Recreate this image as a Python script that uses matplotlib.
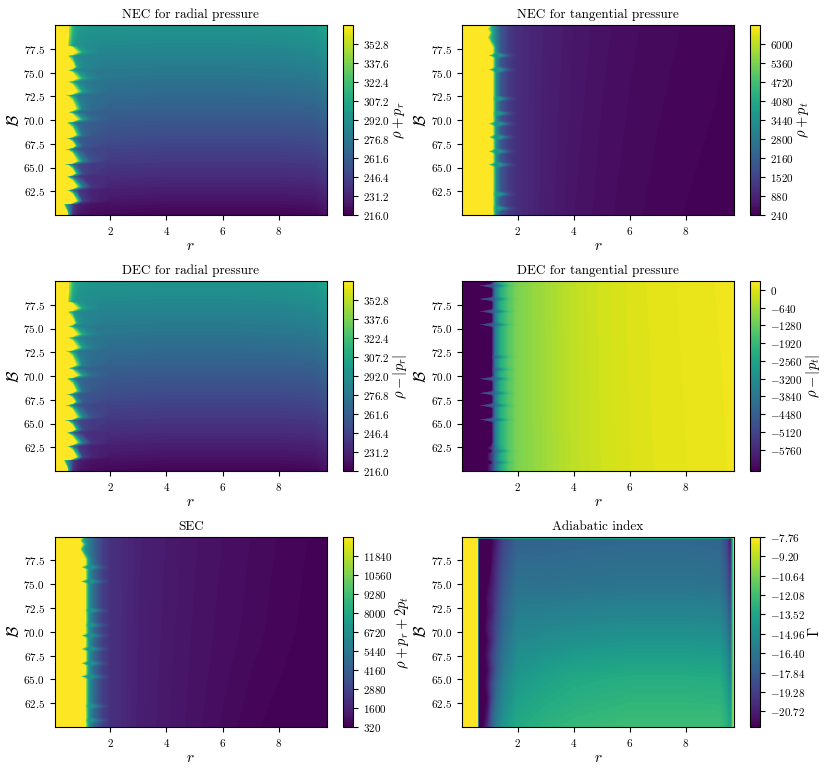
import numpy as np
import matplotlib
matplotlib.use("Agg")
import matplotlib.pyplot as plt

plt.rcParams['font.family'] = ['cmr10', 'DejaVu Sans']
plt.rcParams['mathtext.fontset'] = 'cm'
plt.rcParams['axes.formatter.use_mathtext'] = True

W, H = 830, 772
r_ticks = [2, 4, 6, 8]
b_ticks = [62.5, 65.0, 67.5, 70.0, 72.5, 75.0, 77.5]

# ---------- NEC / DEC radial ----------
nec_r_left = [0.01, 0.2, 0.35, 0.5, 0.65, 0.8, 1.0, 1.3, 2.0]
nec_b_left = [60, 60.3, 61.15, 61.5, 62.65, 63, 64.05, 64.4, 65.35, 65.7, 66.95, 67.3, 68.1, 68.45, 69.75, 70.1,
              70.85, 71.2, 72.65, 73, 74.05, 74.4, 75.25, 75.6, 76.8, 77.15, 77.8, 79, 80]
nec_left = [
    [3000, 1500, 700, 300, 235, 225, 222, 220, 218],
    [3000, 1200, 500, 300, 240, 228, 224, 221, 219],
    [3000, 450, 320, 280, 245, 232, 227, 223, 222],
    [4000, 3000, 1500, 800, 500, 340, 245, 232, 224],
    [3000, 500, 330, 285, 255, 242, 236, 231, 228],
    [4000, 3000, 1500, 800, 500, 350, 275, 240, 230],
    [3000, 420, 300, 270, 250, 243, 238, 235, 234],
    [4000, 3000, 1300, 700, 420, 300, 250, 241, 236],
    [3000, 420, 305, 275, 258, 250, 245, 242, 240],
    [4000, 3000, 1500, 800, 500, 350, 285, 254, 241],
    [3000, 450, 310, 280, 264, 256, 251, 248, 246],
    [4000, 3000, 1300, 700, 420, 300, 260, 253, 247],
    [3000, 500, 320, 285, 268, 261, 257, 254, 251],
    [4000, 3000, 1300, 700, 450, 330, 270, 258, 252],
    [3000, 500, 325, 290, 275, 268, 263, 260, 257],
    [4000, 3000, 1500, 800, 500, 360, 298, 269, 259],
    [3000, 500, 330, 293, 277, 270, 266, 263, 261],
    [4000, 3000, 1300, 700, 450, 340, 282, 269, 262],
    [3000, 500, 335, 297, 284, 276, 273, 270, 268],
    [4000, 3000, 1500, 800, 500, 360, 300, 280, 269],
    [3000, 500, 335, 300, 287, 282, 278, 275, 273],
    [4000, 3000, 1500, 800, 500, 360, 305, 284, 274],
    [3000, 500, 340, 302, 289, 284, 281, 278, 277],
    [4000, 3000, 1300, 650, 400, 305, 288, 283, 278],
    [3000, 700, 380, 309, 294, 289, 286, 284, 282],
    [4000, 3000, 1500, 800, 500, 355, 303, 290, 283],
    [3000, 1200, 600, 333, 301, 294, 291, 288, 286],
    [3000, 1500, 800, 352, 310, 298, 294, 292, 291],
    [3000, 1500, 800, 362, 316, 304, 298, 296, 295],
]
nec_r_right = [2, 4, 6, 8, 9.3, 9.72]
nec_b_right = [60, 65, 70, 75, 80]
nec_right = [
    [218, 217, 217, 217, 218, 222],
    [239, 238, 238, 238, 239, 243],
    [258, 257, 257, 257, 258, 263],
    [277, 276, 276, 277, 279, 285],
    [295, 294, 294, 295, 298, 305],
]

# ---------- rows shared by the NEC tangential and SEC panels ----------
front_b = [60, 60.4, 60.7, 61.0, 61.9, 62.2, 62.5, 65.0, 65.3, 65.6, 66.4, 66.7, 67.0, 67.9, 68.2, 68.5,
           69.3, 69.6, 69.9, 70.4, 70.7, 71.0, 71.95, 72.25, 72.55, 75.0, 75.3, 75.6, 76.5, 76.8, 77.1,
           77.6, 78.2, 78.7, 79.2, 79.6, 80]
front_kind = "NNRNNRNNLNNLNNLNNLNNRNNRNNLNNLNNTUTUT"
front_r = [0.01, 0.78, 0.95, 1.08, 1.14, 1.22, 1.4, 1.7, 2.0]

# ---------- NEC tangential ----------
nect_rows = {
    'N': [30000, 30000, 20000, 7200, 5400, 3400, 1900, 1300, 1050],
    'L': [30000, 6700, 4000, 3700, 3600, 3500, 3600, 1700, 1050],
    'R': [30000, 30000, 20000, 7200, 4800, 3800, 3600, 1700, 1050],
    'T': [30000, 30000, 7500, 4300, 3800, 3000, 1900, 1300, 1050],
    'U': [30000, 15000, 5500, 3900, 3700, 3000, 1900, 1300, 1050],
}
nect_r_right = [2, 3, 4, 5, 6, 7, 8, 9, 9.72]
nect_b_right = [60, 70, 80]
nect_right = [
    [1050, 740, 560, 460, 390, 340, 300, 270, 250],
    [1050, 760, 590, 490, 420, 370, 330, 300, 270],
    [1050, 790, 620, 520, 450, 400, 360, 330, 300],
]

# ---------- DEC tangential ----------
dect_r = [0.01, 0.62, 0.8, 1.08, 1.14, 1.22, 1.4, 1.7, 2.0]
dect_b = [60, 60.6, 60.9, 61.2, 61.8, 62.1, 62.4, 63.0, 65.1, 65.4, 65.7, 66.6, 66.9, 67.2, 67.9, 68.2, 68.5,
          69.4, 69.7, 70.0, 70.4, 70.7, 71.0, 71.7, 72.0, 72.3, 75.1, 75.4, 75.7, 76.5, 76.8, 77.1,
          77.8, 78.1, 78.4, 79.2, 79.5, 79.8, 80]
dect_kind = "BBRBBRBNNLNNLNNLNNLNNRNNRNNLNNLNNLNNLNN"
dect_rows = {
    'N': [-30000, -30000, -20000, -7000, -5400, -3700, -2300, -1500, -1050],
    'L': [-30000, -6600, -5200, -4700, -4500, -4200, -3600, -1800, -1050],
    'R': [-30000, -30000, -20000, -7000, -5000, -4300, -3600, -1800, -1050],
    'B': [-30000, -30000, -7500, -5500, -5100, -4000, -2500, -1500, -1050],
}
dect_r_right = [2, 3, 4, 5, 6, 7, 8, 9, 9.72]
dect_b_right = [60, 70, 80]
dect_right = [
    [-1050, -660, -360, -190, -70, 10, 60, 100, 140],
    [-1050, -650, -350, -180, -60, 20, 70, 110, 150],
    [-1050, -640, -340, -170, -50, 30, 80, 125, 170],
]

# ---------- SEC ----------
sec_rows = {
    'N': [60000, 60000, 40000, 14000, 10500, 7000, 4600, 2700, 2100],
    'L': [60000, 13200, 7500, 6800, 6800, 6800, 6600, 3500, 2100],
    'R': [60000, 60000, 40000, 14000, 9000, 7200, 6600, 3500, 2100],
    'T': [60000, 60000, 15000, 8000, 6800, 5800, 4400, 2700, 2100],
    'U': [60000, 30000, 9500, 7000, 6500, 5800, 4400, 2700, 2100],
}
sec_r_right = [2, 3, 4, 5, 6, 7, 8, 9, 9.72]
sec_b_right = [60, 70, 80]
sec_right = [
    [2100, 1400, 1100, 880, 680, 470, 400, 360, 330],
    [2100, 1450, 1150, 930, 780, 650, 500, 410, 350],
    [2100, 1500, 1200, 980, 830, 700, 560, 450, 400],
]

# ---------- Adiabatic index ----------
G = -2.0
P = -23.0
adi_r_left = [0.01, 0.54, 0.58, 0.63, 0.68, 0.95, 1.1, 1.25, 1.5, 2.0]
adi_b_left = [60, 61.6, 63, 64.5, 66, 67.5, 69, 70.5, 72, 73.5, 75, 76.5, 78, 79.5, 79.75, 80]
adi_left = [
    [G, G, -15, P, P, -20, -17.5, -16, -14.6, -13.3],
    [G, G, -15, P, P, -21, -18, -16.5, -15, -13.6],
    [G, G, -15, P, P, -21.5, -19, -17, -15.4, -14.0],
    [G, G, -15, P, P, -21, -18.8, -17.3, -15.7, -14.3],
    [G, G, -15, P, P, -21.5, -19.8, -18, -16.2, -14.7],
    [G, G, -15, P, P, -21, -19.3, -18, -16.5, -15.1],
    [G, G, -15, P, P, -21.5, -20.2, -18.6, -16.9, -15.4],
    [G, G, -15, P, P, -21, -20, -18.8, -17.2, -15.7],
    [G, G, -15, P, P, -21.5, -20.7, -19.2, -17.5, -16],
    [G, G, -15, P, P, -21.3, -20.5, -19.4, -17.8, -16.3],
    [G, G, -15, P, P, -21.8, -21, -19.8, -18.1, -16.6],
    [G, G, -15, P, P, P, -21.2, -20, -18.4, -16.9],
    [G, G, -15, P, P, P, -21.5, -20.4, -18.7, -17.2],
    [G, G, -15, P, P, P, -21.8, -20.8, -19, -17.5],
    [G, G, -15, P, P, P, -21.8, -20.8, -19, -17.5],
    [G, G, -9.5, -9.5, -9.5, -9.5, -9.5, -9.5, -9.5, -9.5],
]
adi_r_right = [2, 3, 4, 6, 8, 9.2, 9.45, 9.6, 9.66, 9.72]
adi_b_right = [60, 65, 70, 75, 79.75, 80]
adi_right = [
    [-13.3, -12.8, -12.5, -12.2, -12.2, -12.2, -12.8, -14, -12, -9],
    [-14.4, -13.8, -13.4, -13.1, -13.1, -13.2, -14.2, -16, -13, -9],
    [-15.5, -15.3, -15.1, -14.9, -14.9, -15.0, -16, -18, -14, -9],
    [-16.6, -16.7, -16.6, -16.5, -16.5, -16.6, -17.8, -20, -15, -9],
    [-17.4, -17.4, -17.3, -17.2, -17.2, -17.3, -19, -21.5, -16, -9],
    [-9.5, -9.5, -9.5, -9.5, -9.5, -9.5, -9.5, -9.5, -9.5, -9],
]

# ---------- panel definitions ----------
panels = [
    dict(title="NEC for radial pressure", label=r"$\rho+p_r$",
         left=(nec_r_left, nec_b_left, nec_left), right=(nec_r_right, nec_b_right, nec_right),
         lev=(216, 368, 1.52), ticks=[216.0, 231.2, 246.4, 261.6, 276.8, 292.0, 307.2, 322.4, 337.6, 352.8], fmt="{:.1f}"),
    dict(title="NEC for tangential pressure", label=r"$\rho+p_t$",
         left=(front_r, front_b, [nect_rows[k] for k in front_kind]), right=(nect_r_right, nect_b_right, nect_right),
         lev=(240, 6640, 64), ticks=[240, 880, 1520, 2160, 2800, 3440, 4080, 4720, 5360, 6000], fmt="{:d}"),
    dict(title="DEC for radial pressure", label=r"$\rho-|p_r|$",
         left=(nec_r_left, nec_b_left, nec_left), right=(nec_r_right, nec_b_right, nec_right),
         lev=(216, 368, 1.52), ticks=[216.0, 231.2, 246.4, 261.6, 276.8, 292.0, 307.2, 322.4, 337.6, 352.8], fmt="{:.1f}"),
    dict(title="DEC for tangential pressure", label=r"$\rho-|p_t|$",
         left=(dect_r, dect_b, [dect_rows[k] for k in dect_kind]), right=(dect_r_right, dect_b_right, dect_right),
         lev=(-6528, 320, 64), ticks=[-5760, -5120, -4480, -3840, -3200, -2560, -1920, -1280, -640, 0], fmt="{:d}"),
    dict(title="SEC", label=r"$\rho+p_r+2p_t$",
         left=(front_r, front_b, [sec_rows[k] for k in front_kind]), right=(sec_r_right, sec_b_right, sec_right),
         lev=(320, 13120, 128), ticks=[320, 1600, 2880, 4160, 5440, 6720, 8000, 9280, 10560, 11840], fmt="{:d}"),
    dict(title="Adiabatic index", label=r"$\Gamma$",
         left=(adi_r_left, adi_b_left, adi_left), right=(adi_r_right, adi_b_right, adi_right),
         lev=(-21.872, -7.76, 0.144), ticks=[-20.72, -19.28, -17.84, -16.40, -14.96, -13.52, -12.08, -10.64, -9.20, -7.76], fmt="{:.2f}"),
]

col_x = [(54.5, 327.0, 343.0, 353.0), (461.7, 734.0, 750.0, 760.0)]
row_y = [(25.0, 215.0), (281.0, 471.0), (536.7, 727.0)]


def px_rect(x0, x1, y0, y1):
    return [x0 / W, 1 - y1 / H, (x1 - x0) / W, (y1 - y0) / H]


fig = plt.figure(figsize=(W / 100, H / 100), dpi=100)
for i, p in enumerate(panels):
    cx = col_x[i % 2]
    ry = row_y[i // 2]
    ax = fig.add_axes(px_rect(cx[0], cx[1], ry[0], ry[1]))
    cax = fig.add_axes(px_rect(cx[2], cx[3], ry[0], ry[1]))
    lo, hi, st = p['lev']
    levels = np.arange(lo, hi + st * 0.5, st)
    cs = None
    for part in (p['left'], p['right']):
        cs = ax.contourf(part[0], part[1], np.array(part[2], dtype=float), levels=levels, cmap='viridis',
                         vmin=lo, vmax=hi, extend='both')
    ax.set_xlim(0.01, 9.72)
    ax.set_ylim(60, 80)
    ax.set_xticks(r_ticks)
    ax.set_xticklabels([f"${v}$" for v in r_ticks], fontsize=8)
    ax.set_yticks(b_ticks)
    ax.set_yticklabels([f"${v:.1f}$" for v in b_ticks], fontsize=8)
    ax.set_title(p['title'], fontsize=9.5, pad=5)
    ax.set_xlabel(r"$r$", fontsize=11, labelpad=1.5)
    ax.set_ylabel(r"$\mathcal{B}$", fontsize=12, labelpad=1)
    cb = fig.colorbar(cs, cax=cax, extendfrac=0)
    cb.set_ticks(p['ticks'])
    cb.set_ticklabels(["$" + p['fmt'].format(v) + "$" for v in p['ticks']], fontsize=8)
    cb.set_label(p['label'], fontsize=10.5, labelpad=1)

fig.savefig("out.png", dpi=100)
